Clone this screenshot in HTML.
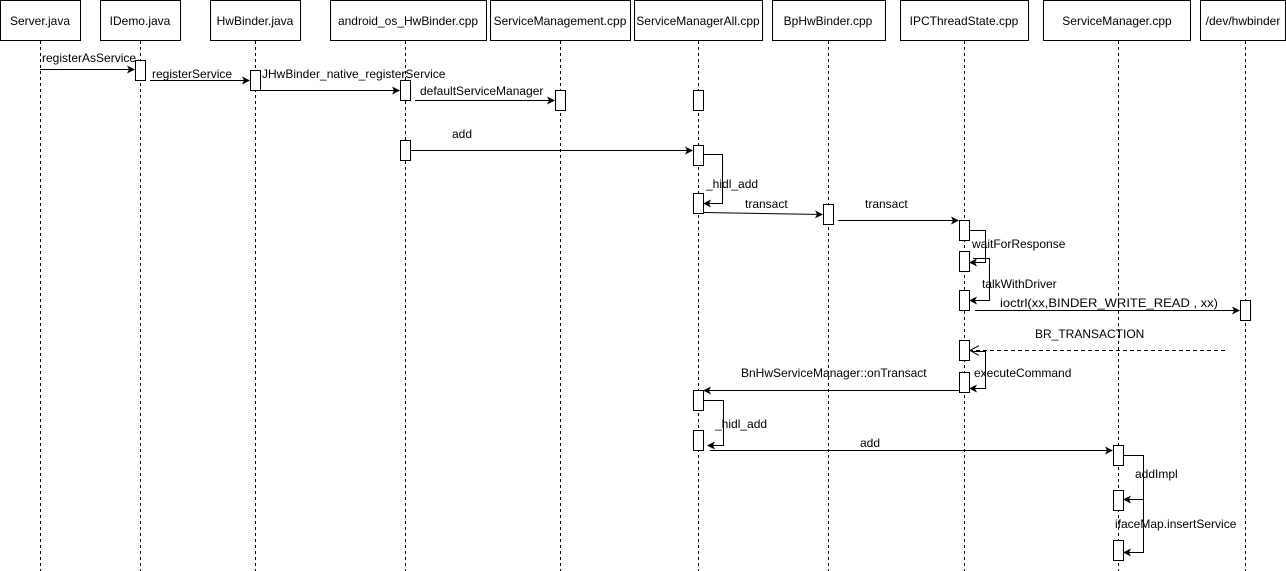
<!DOCTYPE html>
<html><head><meta charset="utf-8"><style>body{margin:0;background:#fff}svg{display:block}text{font-family:"Liberation Sans",Arial,sans-serif;font-size:12px;fill:#000}</style></head><body>
<svg width="1286" height="571" viewBox="0 0 1286 571">
<defs><marker id="a" markerWidth="8" markerHeight="8" refX="7" refY="4" orient="auto" markerUnits="userSpaceOnUse"><path d="M0,0 L8,4 L0,8 L2,4 z" fill="#000"/></marker>
<marker id="o" markerWidth="10" markerHeight="10" refX="9" refY="5" orient="auto" markerUnits="userSpaceOnUse"><path d="M0,0 L9,5 L0,10" fill="none" stroke="#000"/></marker></defs>
<g fill="#fff" stroke="#000">
<rect x="0.5" y="0.5" width="80" height="40"/><rect x="100.5" y="0.5" width="80" height="40"/><rect x="210.5" y="0.5" width="90" height="40"/><rect x="330.5" y="0.5" width="156" height="40"/><rect x="490.5" y="0.5" width="140" height="40"/><rect x="634.5" y="0.5" width="128" height="40"/><rect x="772.5" y="0.5" width="113" height="40"/><rect x="900.5" y="0.5" width="128" height="40"/><rect x="1043.5" y="0.5" width="147" height="40"/><rect x="1200.5" y="0.5" width="85" height="40"/>
</g>
<g text-anchor="middle"><text x="40" y="25">Server.java</text><text x="140" y="25">IDemo.java</text><text x="255" y="25">HwBinder.java</text><text x="408" y="25">android_os_HwBinder.cpp</text><text x="560" y="25">ServiceManagement.cpp</text><text x="698" y="25">ServiceManagerAll.cpp</text><text x="828" y="25">BpHwBinder.cpp</text><text x="964" y="25">IPCThreadState.cpp</text><text x="1117" y="25">ServiceManager.cpp</text><text x="1243" y="25">/dev/hwbinder</text></g>
<g stroke="#000" stroke-dasharray="3,3"><line x1="40.5" y1="41" x2="40.5" y2="571"/><line x1="140.5" y1="41" x2="140.5" y2="571"/><line x1="255.5" y1="41" x2="255.5" y2="571"/><line x1="405.5" y1="41" x2="405.5" y2="571"/><line x1="560.5" y1="41" x2="560.5" y2="571"/><line x1="698.5" y1="41" x2="698.5" y2="571"/><line x1="828.5" y1="41" x2="828.5" y2="571"/><line x1="964.5" y1="41" x2="964.5" y2="571"/><line x1="1118.5" y1="41" x2="1118.5" y2="571"/><line x1="1245.5" y1="41" x2="1245.5" y2="571"/></g>
<g fill="#fff" stroke="#000">
<rect x="135.5" y="60.5" width="10" height="20"/><rect x="250.5" y="70.5" width="10" height="20"/><rect x="400.5" y="80.5" width="10" height="20"/><rect x="555.5" y="90.5" width="10" height="20"/><rect x="693.5" y="90.5" width="10" height="20"/><rect x="400.5" y="140.5" width="10" height="20"/><rect x="693.5" y="145.5" width="10" height="20"/><rect x="693.5" y="193.5" width="10" height="20"/><rect x="823.5" y="204.5" width="10" height="20"/><rect x="959.5" y="220.5" width="10" height="20"/><rect x="959.5" y="251.5" width="10" height="20"/><rect x="959.5" y="290.5" width="10" height="20"/><rect x="1240.5" y="300.5" width="10" height="20"/><rect x="959.5" y="340.5" width="10" height="20"/><rect x="959.5" y="372.5" width="10" height="20"/><rect x="693.5" y="390.5" width="10" height="20"/><rect x="693.5" y="430.5" width="10" height="20"/><rect x="1113.5" y="445.5" width="10" height="20"/><rect x="1113.5" y="490.5" width="10" height="20"/><rect x="1113.5" y="540.5" width="10" height="20"/>
</g>
<g stroke="#000" fill="none">
<line x1="40" y1="69.5" x2="134" y2="69.5" marker-end="url(#a)"/>
<line x1="150" y1="80.5" x2="249" y2="80.5" marker-end="url(#a)"/>
<line x1="260" y1="90.5" x2="399" y2="90.5" marker-end="url(#a)"/>
<line x1="415" y1="100.5" x2="554" y2="100.5" marker-end="url(#a)"/>
<line x1="410" y1="150.5" x2="692" y2="150.5" marker-end="url(#a)"/>
<polyline points="703,154.5 722.5,154.5 722.5,203.5 704,203.5" marker-end="url(#a)"/>
<line x1="703" y1="212.5" x2="822" y2="214.5" marker-end="url(#a)"/>
<line x1="838" y1="220.5" x2="958" y2="220.5" marker-end="url(#a)"/>
<polyline points="969,230.5 985.5,230.5 985.5,262.5 970,262.5" marker-end="url(#a)"/>
<polyline points="973,258.5 989.5,258.5 989.5,300.5 970,300.5" marker-end="url(#a)"/>
<line x1="975" y1="310.5" x2="1239" y2="310.5" marker-end="url(#a)"/>
<line x1="1225" y1="350.5" x2="970" y2="350.5" stroke-dasharray="4,3" marker-end="url(#o)"/>
<polyline points="972,351.5 985.5,351.5 985.5,388.5 970,388.5" marker-end="url(#a)"/>
<line x1="959" y1="390.5" x2="704" y2="390.5" marker-end="url(#a)"/>
<polyline points="703,400.5 723.5,400.5 723.5,445.5 708,445.5" marker-end="url(#a)"/>
<line x1="710" y1="450.5" x2="1112" y2="450.5" marker-end="url(#a)"/>
<polyline points="1123,455.5 1143.5,455.5 1143.5,499.5 1124,499.5" marker-end="url(#a)"/>
<polyline points="1143.5,499.5 1143.5,552.5 1124,552.5" marker-end="url(#a)"/>
</g>
<text x="42" y="62">registerAsService</text>
<text x="152" y="78">registerService</text>
<text x="262" y="78">JHwBinder_native_registerService</text>
<text x="420" y="95">defaultServiceManager</text>
<text x="452" y="138">add</text>
<text x="706" y="188">_hidl_add</text>
<text x="745" y="208">transact</text>
<text x="865" y="208">transact</text>
<text x="972" y="248">waitForResponse</text>
<text x="982" y="288">talkWithDriver</text>
<text x="1000" y="307" textLength="218" lengthAdjust="spacingAndGlyphs">ioctrl(xx,BINDER_WRITE_READ , xx)</text>
<text x="1035" y="338">BR_TRANSACTION</text>
<text x="974" y="377">executeCommand</text>
<text x="741" y="377">BnHwServiceManager::onTransact</text>
<text x="715" y="428">_hidl_add</text>
<text x="860" y="447">add</text>
<text x="1135" y="478">addImpl</text>
<text x="1115" y="528">ifaceMap.insertService</text>
</svg>
</body></html>
